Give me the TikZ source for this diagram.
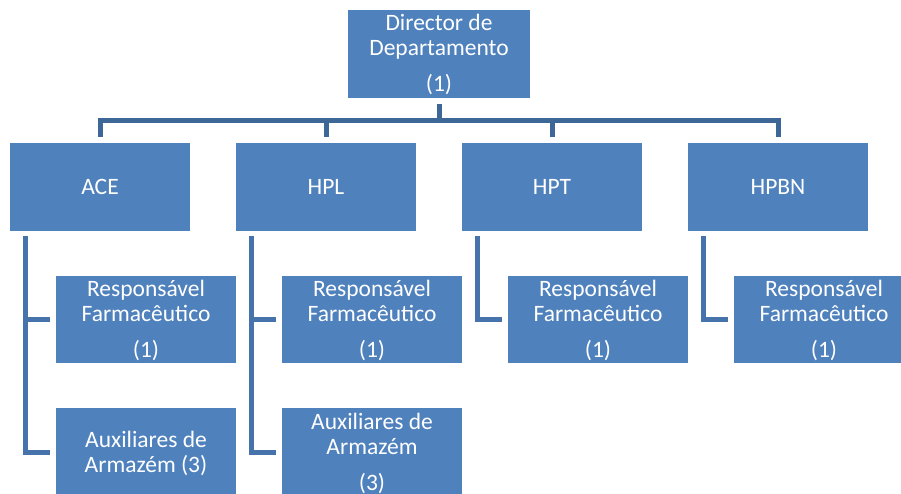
\documentclass[tikz,border=0pt]{standalone}
\usepackage{fontspec}
\setmainfont{Carlito}
\definecolor{boxblue}{RGB}{79,129,189}
\definecolor{linktop}{RGB}{60,103,150}
\definecolor{linkside}{RGB}{71,115,172}

\begin{document}
\begin{tikzpicture}[x=1pt,y=-1pt,
  unit/.style={fill=boxblue, minimum width=180pt, minimum height=88pt,
    inner sep=0pt, outer sep=0pt, anchor=north west},
  % anchored at the baseline of the last line
  caption/.style={text=white, font=\fontsize{23.5}{25}\selectfont,
    align=center, anchor=base, inner sep=0pt},
  toplink/.style={draw=linktop, line width=5pt},
  sidelink/.style={draw=linkside, line width=5pt},
]
\clip (0,0) rectangle (901,493);

% boxes
\node[unit, minimum width=182pt] (dir) at (348,10) {};
\node[unit] (ace)  at (10,143)  {};
\node[unit] (hpl)  at (236,143) {};
\node[unit] (hpt)  at (462,143) {};
\node[unit] (hpbn) at (688,143) {};
\node[unit, minimum height=87pt] (rf1) at (56,276)  {};
\node[unit, minimum height=87pt] (rf2) at (282,276) {};
\node[unit, minimum height=87pt] (rf3) at (508,276) {};
\node[unit, minimum height=87pt] (rf4) at (734,276) {};
\node[unit] (ax1) at (56,408)  {};
\node[unit] (ax2) at (282,408) {};

% texts
\node[caption] (tdir)  at (439,91)  {Director de\\Departamento\\[11pt](1)};
\node[caption] (tace)  at (100,194) {ACE};
\node[caption] (thpl)  at (326,194) {HPL};
\node[caption] (thpt)  at (552,194) {HPT};
\node[caption] (thpbn) at (778,194) {HPBN};
\node[caption] (trf1) at (146,357) {Responsável\\Farmacêutico\\[11pt](1)};
\node[caption] (trf2) at (372,357) {Responsável\\Farmacêutico\\[11pt](1)};
\node[caption] (trf3) at (598,357) {Responsável\\Farmacêutico\\[11pt](1)};
\node[caption] (trf4) at (824,357) {Responsável\\Farmacêutico\\[11pt](1)};
\node[caption] (tax1) at (146,472) {Auxiliares de\\Armazém (3)};
\node[caption] (tax2) at (372,490) {Auxiliares de\\Armazém\\[11pt](3)};

% top-level connectors
\coordinate (bus) at (0,120.5);
\draw[toplink] ([yshift=-6pt]dir.south) -- (dir.south |- bus);
\draw[toplink] ([yshift=6pt]ace.north) -- (ace.north |- bus)
  -- (hpbn.north |- bus) -- ([yshift=6pt]hpbn.north);
\draw[toplink] (hpl.north |- bus) -- ([yshift=6pt]hpl.north);
\draw[toplink] (hpt.north |- bus) -- ([yshift=6pt]hpt.north);

% second-level connectors
\draw[sidelink] ([xshift=15pt,yshift=-5pt]ace.south west) |- ([xshift=-6pt]rf1.west);
\draw[sidelink] ([xshift=15pt,yshift=-5pt]ace.south west) |- ([xshift=-6pt]ax1.west);
\draw[sidelink] ([xshift=15pt,yshift=-5pt]hpl.south west) |- ([xshift=-6pt]rf2.west);
\draw[sidelink] ([xshift=15pt,yshift=-5pt]hpl.south west) |- ([xshift=-6pt]ax2.west);
\draw[sidelink] ([xshift=15pt,yshift=-5pt]hpt.south west) |- ([xshift=-6pt]rf3.west);
\draw[sidelink] ([xshift=15pt,yshift=-5pt]hpbn.south west) |- ([xshift=-6pt]rf4.west);
\end{tikzpicture}
\end{document}
